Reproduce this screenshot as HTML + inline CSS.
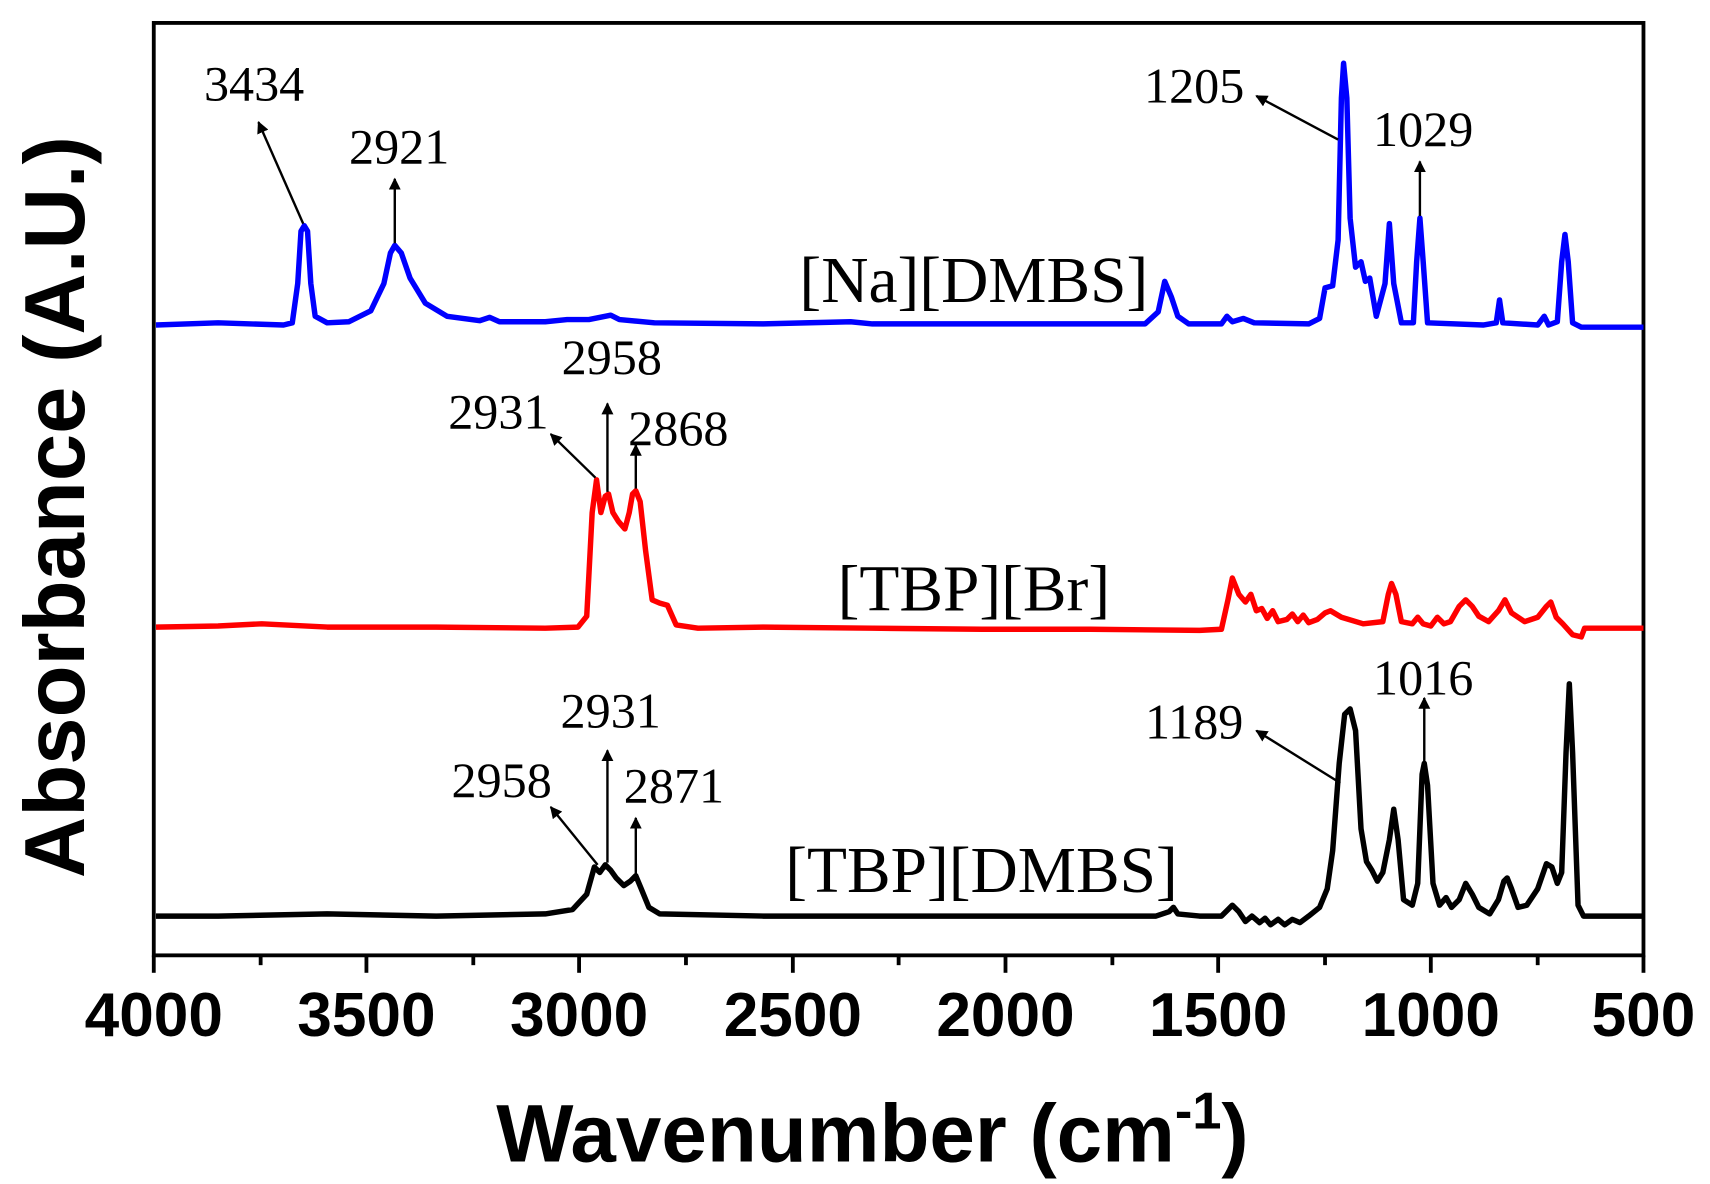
<!DOCTYPE html>
<html><head><meta charset="utf-8"><style>html,body{margin:0;padding:0;background:#fff}svg{display:block}</style></head>
<body>
<svg width="1710" height="1184" viewBox="0 0 1568 1085.65" xmlns="http://www.w3.org/2000/svg">
<defs><marker id="ah" viewBox="0 0 10 10" refX="9" refY="5" markerWidth="5" markerHeight="5" orient="auto"><path d="M0,0 L10,5 L0,10 z" fill="#000"/></marker></defs>
<rect x="141" y="21" width="1366" height="855" fill="none" stroke="#000" stroke-width="3.5"/>
<g stroke="#000" stroke-width="3.5">
<line x1="141" y1="876" x2="141" y2="892"/><line x1="336" y1="876" x2="336" y2="892"/><line x1="531" y1="876" x2="531" y2="892"/><line x1="727" y1="876" x2="727" y2="892"/><line x1="922" y1="876" x2="922" y2="892"/><line x1="1117" y1="876" x2="1117" y2="892"/><line x1="1312" y1="876" x2="1312" y2="892"/><line x1="1507" y1="876" x2="1507" y2="892"/>
<line x1="239" y1="876" x2="239" y2="885"/><line x1="434" y1="876" x2="434" y2="885"/><line x1="629" y1="876" x2="629" y2="885"/><line x1="824" y1="876" x2="824" y2="885"/><line x1="1020" y1="876" x2="1020" y2="885"/><line x1="1215" y1="876" x2="1215" y2="885"/><line x1="1410" y1="876" x2="1410" y2="885"/>
</g>
<g font-family="Liberation Sans, Arial, sans-serif" font-weight="bold" font-size="57" text-anchor="middle" fill="#000">
<text x="141" y="950">4000</text><text x="336" y="950">3500</text><text x="531" y="950">3000</text><text x="727" y="950">2500</text><text x="922" y="950">2000</text><text x="1117" y="950">1500</text><text x="1312" y="950">1000</text><text x="1507" y="950">500</text>
<text x="800" y="1065" font-size="75">Wavenumber (cm<tspan font-size="48" dy="-30">-1</tspan><tspan dy="30">)</tspan></text>
<text transform="translate(77,465) rotate(-90)" font-size="78">Absorbance (A.U.)</text>
</g>
<g fill="none" stroke-width="5" stroke-linejoin="round">
<polyline stroke="#0000ff" points="143,298 200,296 260,298 268,296 273,260 276,212 279,207 282,212 285,260 289,290 300,296 320,295 340,285 352,260 358,232 362,225 368,232 376,255 390,278 410,290 440,294 449,291 458,295 500,295 520,293 540,293 560,289 568,293 600,296 700,297 780,295 800,297 900,297 1000,297 1050,297 1062,286 1068,258 1074,272 1080,290 1090,297 1120,297 1125,290 1130,295 1140,292 1150,296 1200,297 1210,292 1215,264 1222,262 1227,220 1230,90 1232,58 1235,90 1238,200 1243,245 1248,240 1252,258 1256,255 1262,290 1270,260 1274,205 1278,260 1285,296 1296,296 1299,240 1302,200 1305,240 1309,296 1360,298 1372,296 1375,275 1378,296 1410,298 1416,290 1420,298 1428,295 1432,240 1435,215 1438,240 1442,296 1450,300 1507,300"/>
<polyline stroke="#ff0000" points="143,575 200,574 240,572 300,575 400,575 500,576 530,575 538,565 543,470 547,440 551,470 555,455 558,453 562,470 567,478 573,485 577,470 580,453 583,450 587,460 592,505 598,550 605,553 612,555 620,573 640,576 700,575 800,576 900,577 1000,577 1100,578 1120,577 1126,550 1130,530 1136,545 1142,552 1147,545 1152,560 1157,558 1162,567 1167,560 1172,570 1180,568 1185,563 1190,570 1195,564 1200,571 1208,568 1215,562 1220,560 1230,566 1250,572 1268,570 1273,545 1276,535 1280,545 1285,570 1295,572 1300,566 1305,572 1312,574 1318,566 1324,572 1330,570 1338,556 1344,550 1350,556 1356,565 1365,570 1374,560 1380,550 1386,562 1398,570 1410,566 1418,556 1422,552 1427,566 1433,572 1442,582 1450,584 1453,576 1507,576"/>
<polyline stroke="#000000" points="143,840 200,840 300,838 400,840 500,838 525,834 538,820 545,795 550,800 555,793 560,798 565,805 572,812 578,808 583,803 588,815 595,832 605,838 700,840 800,840 900,840 1000,840 1060,840 1072,836 1076,832 1080,838 1100,840 1120,840 1125,835 1130,830 1136,836 1142,845 1148,840 1155,846 1160,842 1165,848 1172,843 1178,848 1185,843 1192,846 1200,840 1210,832 1217,815 1222,780 1228,700 1233,655 1238,650 1243,670 1248,760 1253,790 1258,798 1263,808 1268,800 1274,770 1278,742 1282,770 1287,825 1295,830 1300,810 1304,710 1306,700 1309,720 1314,810 1320,830 1326,823 1331,832 1338,825 1344,810 1350,820 1356,832 1366,838 1374,825 1379,808 1382,805 1386,815 1392,832 1400,830 1410,815 1418,792 1423,795 1428,810 1432,800 1436,690 1439,627 1442,690 1447,830 1452,840 1507,840"/>
</g>
<g stroke="#000" stroke-width="2.2" marker-end="url(#ah)">
<line x1="278" y1="205" x2="237" y2="112"/>
<line x1="362" y1="223" x2="362" y2="164"/>
<line x1="1227" y1="128" x2="1152" y2="88"/>
<line x1="1302" y1="198" x2="1302" y2="148"/>
<line x1="557" y1="451" x2="557" y2="370"/>
<line x1="546" y1="438" x2="505" y2="398"/>
<line x1="583" y1="448" x2="583" y2="408"/>
<line x1="557" y1="791" x2="557" y2="688"/>
<line x1="548" y1="793" x2="505" y2="740"/>
<line x1="583" y1="801" x2="583" y2="750"/>
<line x1="1229" y1="718" x2="1152" y2="670"/>
<line x1="1306" y1="698" x2="1306" y2="640"/>
</g>
<g font-family="Liberation Serif, 'Times New Roman', serif" font-size="46" text-anchor="middle" fill="#000">
<text x="233" y="92">3434</text>
<text x="366" y="150">2921</text>
<text x="1095" y="94">1205</text>
<text x="1305" y="134">1029</text>
<text x="561" y="343">2958</text>
<text x="457" y="393">2931</text>
<text x="622" y="408">2868</text>
<text x="560" y="667">2931</text>
<text x="460" y="731">2958</text>
<text x="618" y="736">2871</text>
<text x="1095" y="677">1189</text>
<text x="1305" y="637">1016</text>
<text x="893" y="277" font-size="60">[Na][DMBS]</text>
<text x="893" y="560" font-size="60">[TBP][Br]</text>
<text x="900" y="818" font-size="60">[TBP][DMBS]</text>
</g>
</svg>
</body></html>
